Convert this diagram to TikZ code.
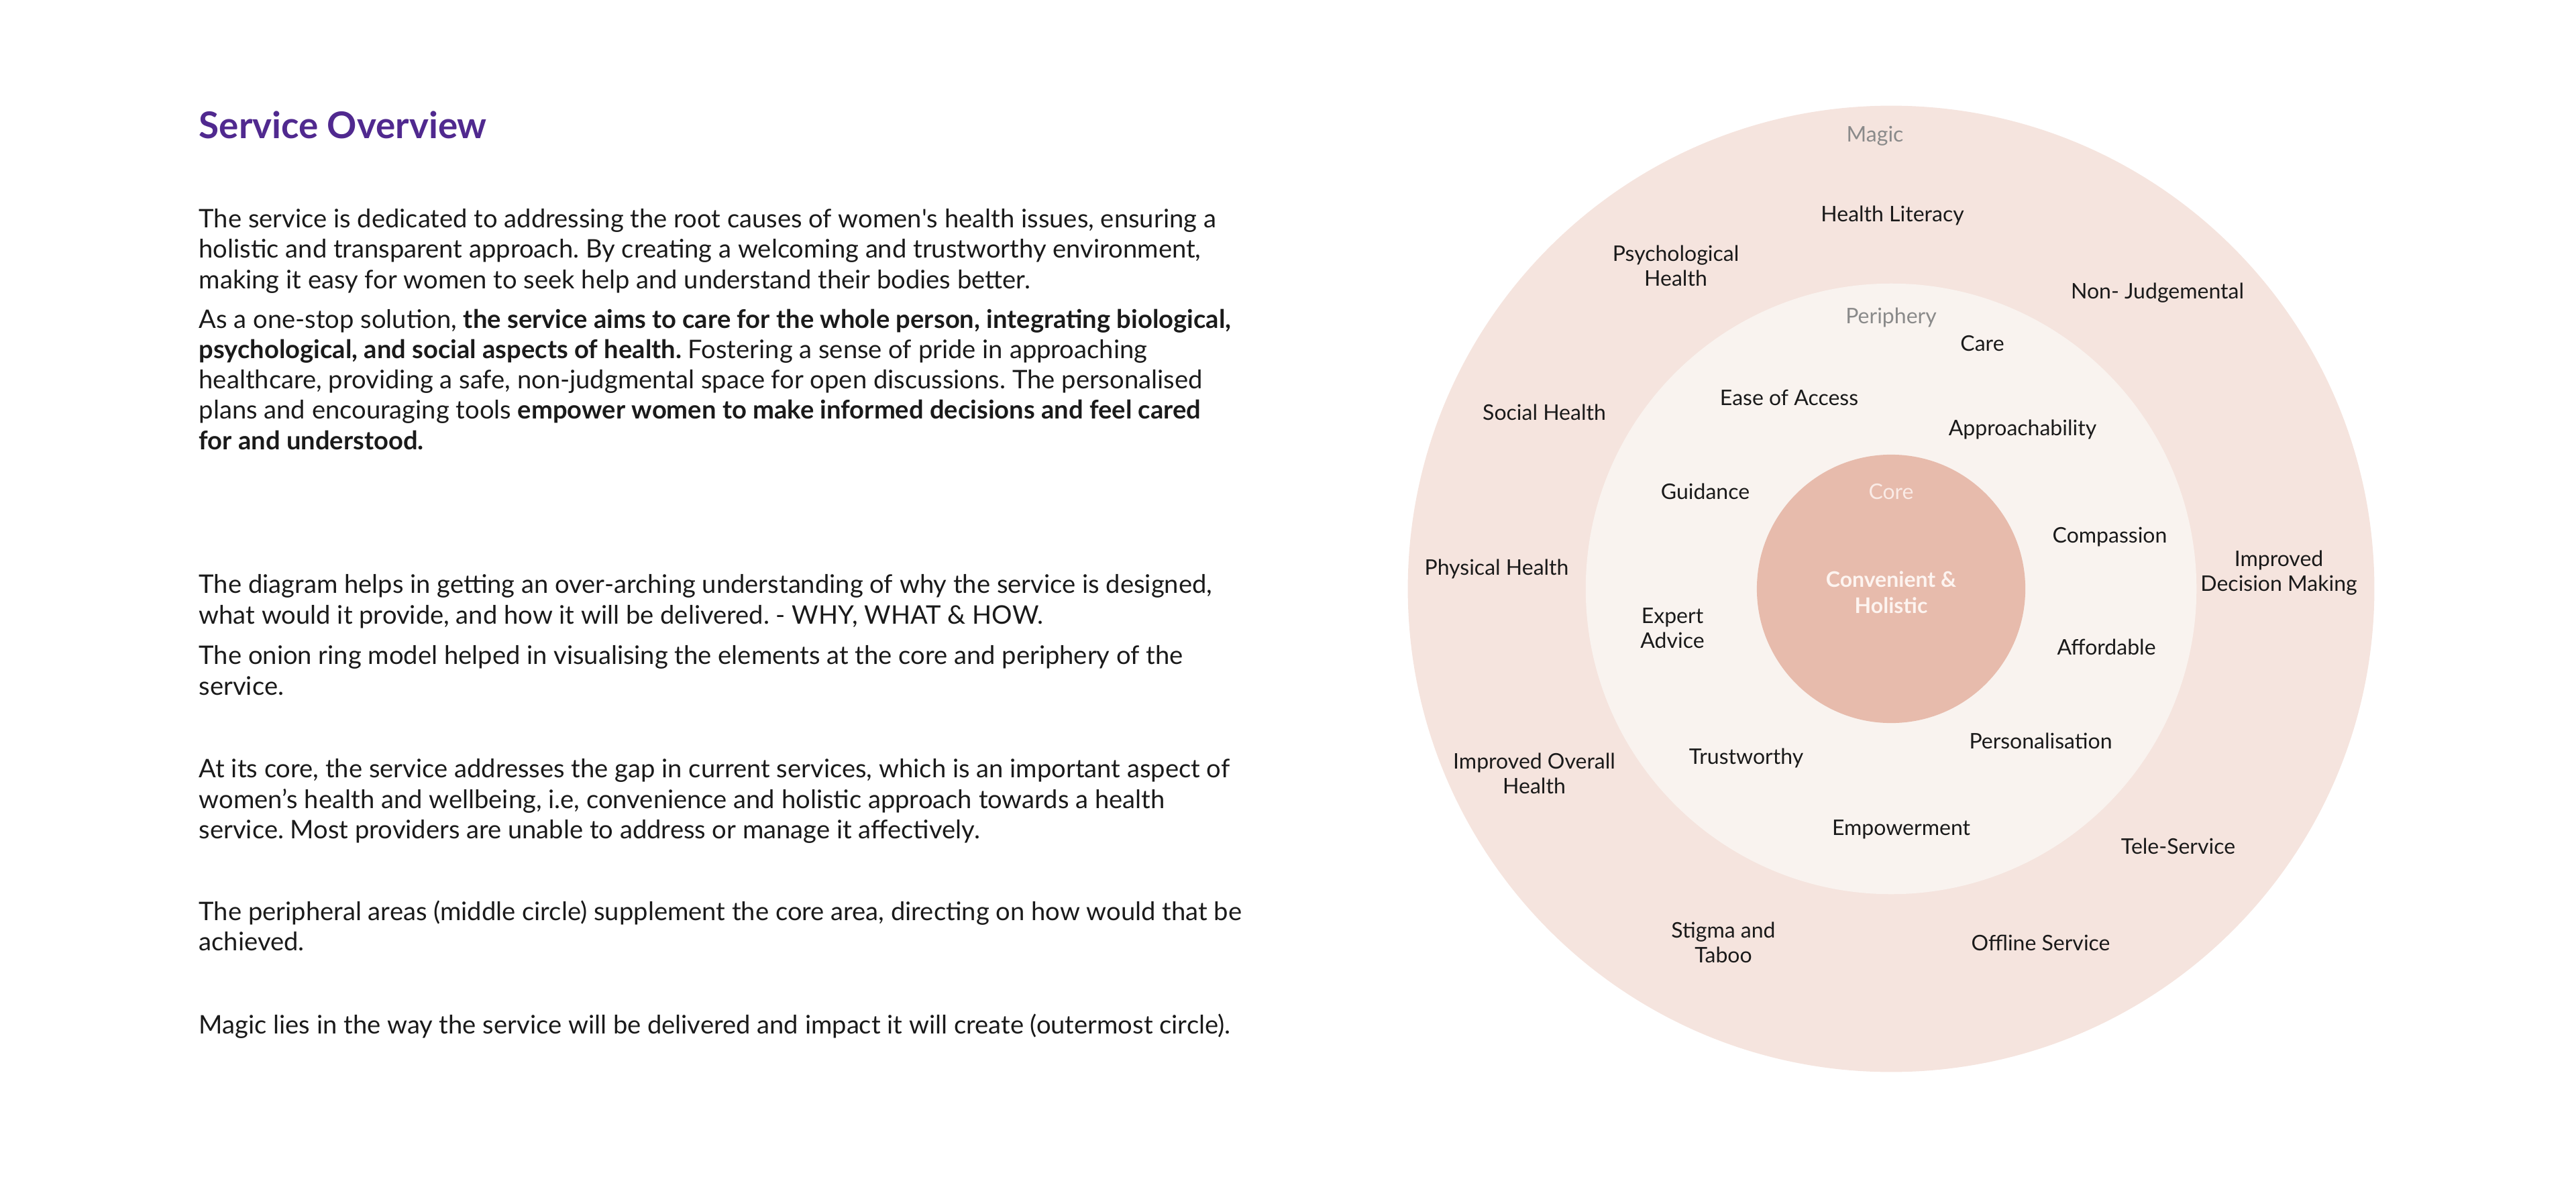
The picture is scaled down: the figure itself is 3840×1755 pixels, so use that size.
\documentclass[tikz,border=0pt]{standalone}
\usepackage{fontspec}
\setmainfont{Lato}
\usetikzlibrary{positioning}
\definecolor{titlepurple}{HTML}{50298F}
\definecolor{magicfill}{HTML}{F5E4DE}
\definecolor{peripheryfill}{HTML}{F9F3EF}
\definecolor{corefill}{HTML}{E7BBAC}
\definecolor{ringgray}{HTML}{8A8A8A}
\definecolor{coretext}{HTML}{FDF4F0}
\definecolor{inktext}{HTML}{1A1A1A}
\frenchspacing

\begin{document}
\begin{tikzpicture}[x=0.01cm, y=-0.01cm,
  bodytext/.style={anchor=base west, inner sep=0pt, align=left, text=inktext,
    font=\fontsize{10.85}{12.8}\selectfont},
  ring/.style={circle, inner sep=0pt, draw=none},
  ringitem/.style={inner sep=0pt, align=center, text=inktext, yshift=-0.03cm,
    font=\fontsize{9.1}{10.5}\selectfont},
  ringname/.style={ringitem, text=ringgray}]
\useasboundingbox (0,0) rectangle (3840,1755);

% left column (each node sits on the baseline of its last line)
\node[bodytext, text=titlepurple, font=\fontsize{15.6}{18}\selectfont\bfseries] (title) at (296,207) {Service Overview};
\node[bodytext] (intro) at (296,430) {The service is dedicated to addressing the root causes of women\textquotesingle s health issues, ensuring a\\
holistic and transparent approach. By creating a welcoming and trustworthy environment,\\
making it easy for women to seek help and understand their bodies better.};
\node[bodytext] (aim) at (296,670) {As a one-stop solution, \textbf{the service aims to care for the whole person, integrating biological,}\\
\textbf{psychological, and social aspects of health.} Fostering a sense of pride in approaching\\
healthcare, providing a safe, non-judgmental space for open discussions. The personalised\\
plans and encouraging tools \textbf{empower women to make informed decisions and feel cared}\\
\textbf{for and understood.}};
\node[bodytext] (why) at (296,930) {The diagram helps in getting an over-arching understanding of why the service is designed,\\
what would it provide, and how it will be delivered. - WHY, WHAT \& HOW.};
\node[bodytext] (onion) at (296,1036) {The onion ring model helped in visualising the elements at the core and periphery of the\\
service.};
\node[bodytext] (corenote) at (296,1250) {At its core, the service addresses the gap in current services, which is an important aspect of\\
women’s health and wellbeing, i.e, convenience and holistic approach towards a health\\
service. Most providers are unable to address or manage it affectively.};
\node[bodytext] (perinote) at (296,1417) {The peripheral areas (middle circle) supplement the core area, directing on how would that be\\
achieved.};
\node[bodytext] (magicnote) at (296,1541) {Magic lies in the way the service will be delivered and impact it will create (outermost circle).};

% onion rings
\node[ring, fill=magicfill, minimum size=14.4cm] (magic) at (2819,878) {};
\node[ring, fill=peripheryfill, minimum size=9.1cm] (periphery) at (magic.center) {};
\node[ring, fill=corefill, minimum size=4cm] (core) at (magic.center) {};

\node[ringname] (magiclbl) at (2795,200) {Magic};
\node[ringname] (periphlbl) at (2819,470) {Periphery};
\node[ringname, text=coretext!85!corefill] (corelbl) at (2819,730) {Core};
\node[ringitem, text=coretext, font=\fontsize{9.1}{11}\selectfont\bfseries] (conv) at (2819,880) {Convenient \&\\Holistic};

% outer ring
\node[ringitem] (literacy) at (2821,318) {Health Literacy};
\node[ringitem] (psych) at (2498,393) {Psychological\\Health};
\node[ringitem] (nonjudge) at (3216,434) {Non- Judgemental};
\node[ringitem] (social) at (2302,612) {Social Health};
\node[ringitem] (decision) at (3397,851) {Improved\\Decision Making};
\node[ringitem] (physical) at (2231,845) {Physical Health};
\node[ringitem] (overall) at (2287,1150) {Improved Overall\\Health};
\node[ringitem] (tele) at (3247,1259) {Tele-Service};
\node[ringitem] (stigma) at (2569,1402) {Stigma and\\Taboo};
\node[ringitem] (offline) at (3042,1403) {Offline Service};

% middle ring
\node[ringitem] (care) at (2955,509) {Care};
\node[ringitem] (ease) at (2667,590) {Ease of Access};
\node[ringitem] (approach) at (3015,637) {Approachability};
\node[ringitem] (guidance) at (2542,730) {Guidance};
\node[ringitem] (compassion) at (3145,798) {Compassion};
\node[ringitem] (expert) at (2493,934) {Expert\\Advice};
\node[ringitem] (afford) at (3140,962) {Affordable};
\node[ringitem] (personal) at (3042,1102) {Personalisation};
\node[ringitem] (trust) at (2603,1127) {Trustworthy};
\node[ringitem] (empower) at (2834,1234) {Empowerment};
\end{tikzpicture}
\end{document}
